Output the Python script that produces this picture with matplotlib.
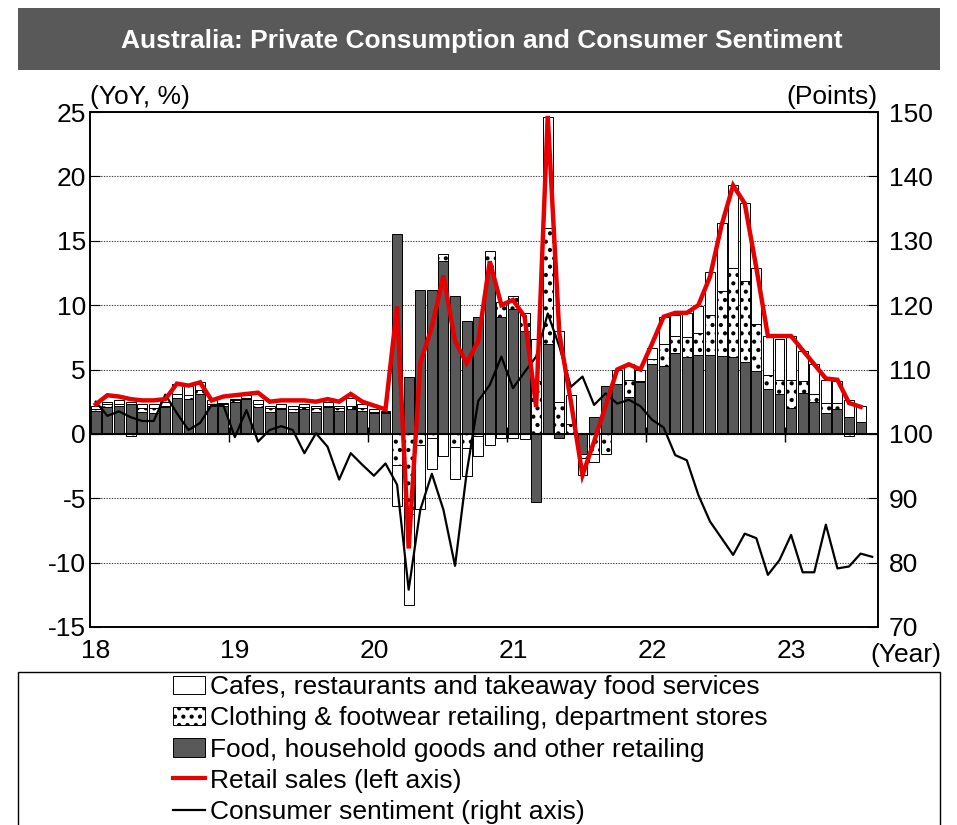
import numpy as np
import matplotlib.pyplot as plt
from matplotlib.patches import Rectangle, Patch
from matplotlib.lines import Line2D

plt.rcParams['font.family'] = ['Liberation Sans', 'DejaVu Sans']
plt.rcParams['hatch.linewidth'] = 1.8
plt.rcParams['axes.unicode_minus'] = False

######### Data (monthly, Jan 2018 - Aug 2023) #########
years = ['18', '19', '20', '21', '22', '23']

# Food, household goods and other retailing (YoY contribution, %pt)
food = [1.8, 2.1, 2.2, 2.3, 1.7, 1.6, 2.1, 2.8, 2.7, 3.1, 2.2, 2.2,
        2.5, 2.7, 2.1, 1.7, 1.9, 1.7, 1.9, 1.7, 2.1, 1.8, 1.9, 1.8,
        1.6, 1.6, 15.5, 4.4, 11.2, 11.2, 13.4, 10.7, 8.8, 9.05, 12.6, 9.05,
        9.7, 8.0, -5.3, 7.0, -0.3, 0.1, -1.55, 1.3, 3.7, 3.9, 2.85, 4.0,
        5.4, 5.3, 6.3, 6.0, 6.1, 6.1, 6.05, 6.0, 5.6, 4.9, 3.5, 3.1,
        2.0, 3.2, 2.5, 1.6, 1.9, 1.3, 0.9]
# Clothing & footwear retailing, department stores
clothing = [0.1, 0.2, 0.1, -0.15, 0.3, 0.4, 0.1, 0.3, 0.3, 0.3, 0.1, 0.1,
            0.1, 0.1, 0.2, 0.3, 0.1, 0.2, 0.2, 0.3, 0.1, 0.2, 0.3, 0.2,
            0.1, 0.1, -2.4, -6.2, -0.85, -0.3, 0.6, -1.05, -1.1, -0.2, 1.6, 1.2,
            1.0, 1.4, 4.1, 9.0, 2.5, 0.7, -0.35, -1.6, -1.55, 0.0, 1.3, 0.1,
            0.4, 1.7, 1.3, 1.5, 1.7, 3.1, 5.05, 6.9, 6.3, 3.6, 1.1, 1.1,
            2.2, 0.9, 0.6, 0.8, 0.5, -0.2, 0.0]
# Cafes, restaurants and takeaway food services
cafes = [0.3, 0.2, 0.3, 0.2, 0.3, 0.3, 0.3, 0.8, 0.7, 0.6, 0.3, 0.1,
         0.1, 0.2, 0.3, 0.2, 0.3, 0.3, 0.2, 0.2, 0.3, 0.2, 0.6, 0.3,
         0.2, 0.1, -3.2, -7.1, -4.95, -2.4, -1.7, -2.45, -2.2, -1.5, -0.85, -0.3,
         -0.3, -0.4, 3.3, 8.6, 5.5, 2.2, -1.3, -0.6, 0.0, 1.1, 1.3, 0.9,
         0.85, 2.1, 1.6, 1.9, 2.1, 3.4, 5.3, 6.4, 6.0, 4.4, 3.0, 3.15,
         3.4, 2.3, 2.3, 1.8, 1.7, 1.3, 1.3]
# Retail sales (YoY, %)
retail = [2.3, 3.0, 2.9, 2.7, 2.6, 2.6, 2.7, 3.9, 3.75, 4.0, 2.6, 2.9,
          3.0, 3.1, 3.2, 2.5, 2.6, 2.6, 2.6, 2.5, 2.7, 2.5, 3.1, 2.5,
          2.2, 1.9, 9.9, -8.9, 5.5, 8.3, 12.3, 7.2, 5.5, 7.2, 13.4, 10.0,
          10.4, 9.1, 2.1, 24.7, 7.8, 2.5, -3.2, -0.6, 2.2, 5.0, 5.4, 5.0,
          7.0, 9.1, 9.4, 9.4, 10.0, 12.2, 16.2, 19.3, 17.9, 12.9, 7.6, 7.6,
          7.6, 6.5, 5.4, 4.3, 4.2, 2.4, 2.1]
# Consumer sentiment (points)
sentiment = [105.0, 102.8, 103.5, 102.6, 102.0, 102.0, 106.1, 103.2, 100.6, 101.7, 104.5, 104.5,
             99.5, 103.7, 98.8, 100.6, 101.2, 100.6, 97.0, 100.1, 98.0, 92.9, 97.0, 95.2,
             93.5, 95.4, 92.1, 75.8, 88.2, 93.8, 88.2, 79.5, 93.9, 105.1, 107.6, 112.0,
             107.1, 109.6, 112.0, 118.7, 113.6, 107.3, 108.9, 104.5, 106.3, 104.7, 105.3, 104.3,
             102.2, 101.0, 96.7, 95.9, 90.5, 86.4, 83.8, 81.2, 84.5, 83.8, 78.1, 80.4,
             84.3, 78.5, 78.5, 85.9, 79.1, 79.4, 81.4, 80.9]

labels = ['Cafes, restaurants and takeaway food services',
          'Clothing & footwear retailing, department stores',
          'Food, household goods and other retailing',
          'Retail sales (left axis)',
          'Consumer sentiment (right axis)']

##################################################
FS = 19
fig = plt.figure(figsize=(9.57, 8.25), dpi=100)
W, H = 957, 825

# title bar
fig.patches.append(Rectangle((18 / W, 1 - 70 / H), 922 / W, 62 / H,
                             transform=fig.transFigure, facecolor='#595959',
                             edgecolor='none'))
fig.text(482 / W, 1 - 41 / H, 'Australia: Private Consumption and Consumer Sentiment',
         color='white', fontsize=19, fontweight='bold', ha='center', va='center')

ax = fig.add_axes([90 / W, 1 - 627 / H, 788 / W, 515 / H])
ax2 = ax.twinx()

x = np.arange(len(retail))
x_s = np.arange(len(sentiment))

# stacked bars, positives and negatives stacked separately
pos = np.zeros(len(food))
neg = np.zeros(len(food))
styles = [dict(color='#595959', hatch=None),
          dict(color='white', hatch='..'),
          dict(color='white', hatch=None)]
for vals, st in zip([food, clothing, cafes], styles):
    v = np.array(vals)
    bottom = np.where(v >= 0, pos, neg)
    ax.bar(x, v, bottom=bottom, width=0.86, facecolor=st['color'],
           edgecolor='black', linewidth=0.7, hatch=st['hatch'], zorder=3)
    pos = pos + np.where(v >= 0, v, 0)
    neg = neg + np.where(v < 0, v, 0)

ax.axhline(0, color='black', lw=1.5, zorder=4)
for yr in range(1, len(years)):
    ax.vlines(12 * yr - 0.5, -0.6, 0.5, color='black', lw=1, zorder=4)

ax.set_xlim(-0.5, len(sentiment) - 0.5)
ax.set_ylim(-15, 25)
ax.set_yticks(np.arange(-15, 26, 5))
ax.yaxis.grid(True, linestyle=(0, (1.2, 1.2)), color='#444444', lw=0.8)
ax.set_axisbelow(True)
ax.set_xticks(np.arange(0, len(sentiment), 12), years)
ax.tick_params(axis='x', length=0, pad=9, labelsize=FS)
ax.tick_params(axis='y', direction='in', length=7, labelsize=FS, pad=3)

ax2.set_ylim(70, 150)
ax2.set_yticks(np.arange(70, 151, 10))
ax2.tick_params(axis='y', direction='in', length=7, labelsize=FS, pad=8)

ax2.plot(x_s, sentiment, color='black', lw=1.6, zorder=5)
ax2.plot(x, retail, color='#e60000', lw=3.2, zorder=6,
         transform=ax.transData, solid_joinstyle='miter')

for a in (ax, ax2):
    for s in a.spines.values():
        s.set_linewidth(1.2)

fig.text(90 / W, 1 - 97 / H, '(YoY, %)', fontsize=FS, ha='left', va='center')
fig.text(878 / W, 1 - 97 / H, '(Points)', fontsize=FS, ha='right', va='center')
fig.text(906 / W, 1 - 655 / H, '(Year)', fontsize=FS, ha='center', va='center')

# legend box
fig.patches.append(Rectangle((18 / W, -0.05), 922 / W, 0.05 + 1 - 672 / H,
                             transform=fig.transFigure, facecolor='white',
                             edgecolor='black', lw=1))
handles = [Patch(facecolor='white', edgecolor='black', lw=0.7),
           Patch(facecolor='white', edgecolor='black', lw=0.7, hatch='..'),
           Patch(facecolor='#595959', edgecolor='black', lw=0.7),
           Line2D([], [], color='#e60000', lw=3),
           Line2D([], [], color='black', lw=1.6)]
fig.legend(handles, labels, loc='upper left', bbox_to_anchor=(172 / W, 1 - 674 / H),
           frameon=False, fontsize=FS, handlelength=1.2, handletextpad=0.2,
           labelspacing=0.27, borderaxespad=0, borderpad=0.05)

fig.savefig('out.png', dpi=100)
